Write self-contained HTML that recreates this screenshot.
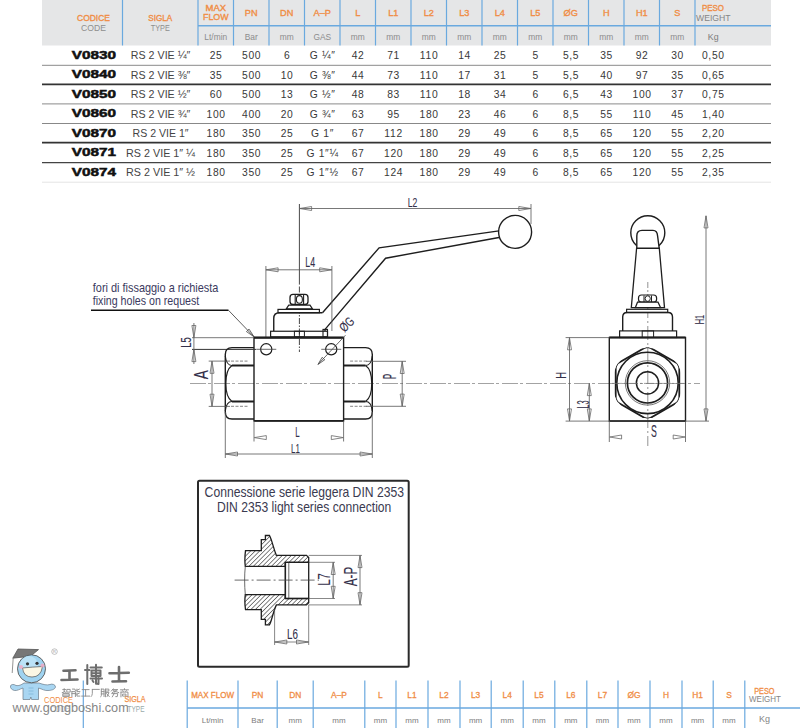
<!DOCTYPE html>
<html><head><meta charset="utf-8"><title>V0830 ball valve</title>
<style>
html,body{margin:0;padding:0;background:#fff;width:800px;height:728px;overflow:hidden;}
svg{display:block;font-family:"Liberation Sans",sans-serif;}
</style></head><body>
<svg width="800" height="728" viewBox="0 0 800 728">
<rect width="800" height="728" fill="#fff"/>
<rect x="42" y="0" width="729" height="45.5" fill="#e5e6e7"/>
<line x1="122.5" y1="0" x2="122.5" y2="45.5" stroke="#6aa9df" stroke-width="1.2"/>
<line x1="198" y1="0" x2="198" y2="45.5" stroke="#6aa9df" stroke-width="1.2"/>
<line x1="233.5" y1="0" x2="233.5" y2="45.5" stroke="#6aa9df" stroke-width="1.2"/>
<line x1="269" y1="0" x2="269" y2="45.5" stroke="#6aa9df" stroke-width="1.2"/>
<line x1="304.5" y1="0" x2="304.5" y2="45.5" stroke="#6aa9df" stroke-width="1.2"/>
<line x1="340" y1="0" x2="340" y2="45.5" stroke="#6aa9df" stroke-width="1.2"/>
<line x1="375.5" y1="0" x2="375.5" y2="45.5" stroke="#6aa9df" stroke-width="1.2"/>
<line x1="411" y1="0" x2="411" y2="45.5" stroke="#6aa9df" stroke-width="1.2"/>
<line x1="446.5" y1="0" x2="446.5" y2="45.5" stroke="#6aa9df" stroke-width="1.2"/>
<line x1="482" y1="0" x2="482" y2="45.5" stroke="#6aa9df" stroke-width="1.2"/>
<line x1="517.5" y1="0" x2="517.5" y2="45.5" stroke="#6aa9df" stroke-width="1.2"/>
<line x1="553" y1="0" x2="553" y2="45.5" stroke="#6aa9df" stroke-width="1.2"/>
<line x1="588.5" y1="0" x2="588.5" y2="45.5" stroke="#6aa9df" stroke-width="1.2"/>
<line x1="624" y1="0" x2="624" y2="45.5" stroke="#6aa9df" stroke-width="1.2"/>
<line x1="659.5" y1="0" x2="659.5" y2="45.5" stroke="#6aa9df" stroke-width="1.2"/>
<line x1="695" y1="0" x2="695" y2="45.5" stroke="#6aa9df" stroke-width="1.2"/>
<line x1="198" y1="25.8" x2="771" y2="25.8" stroke="#6aa9df" stroke-width="1.6"/>
<text x="93.5" y="20.6" font-size="9.2" fill="#f08d45" text-anchor="middle" font-weight="normal" font-family='"Liberation Sans", sans-serif' textLength="33" lengthAdjust="spacingAndGlyphs"  stroke="#f08d45" stroke-width="0.35">CODICE</text>
<text x="93.5" y="30.6" font-size="9.2" fill="#8e8e8e" text-anchor="middle" font-weight="normal" font-family='"Liberation Sans", sans-serif' textLength="25" lengthAdjust="spacingAndGlyphs" >CODE</text>
<text x="160.3" y="20.6" font-size="8.6" fill="#f08d45" text-anchor="middle" font-weight="normal" font-family='"Liberation Sans", sans-serif' textLength="24" lengthAdjust="spacingAndGlyphs"  stroke="#f08d45" stroke-width="0.35">SIGLA</text>
<text x="160.3" y="31" font-size="9" fill="#8e8e8e" text-anchor="middle" font-weight="normal" font-family='"Liberation Sans", sans-serif' textLength="19" lengthAdjust="spacingAndGlyphs" >TYPE</text>
<text x="215.8" y="10.9" font-size="8.2" fill="#f08d45" text-anchor="middle" font-weight="normal" font-family='"Liberation Sans", sans-serif' textLength="20.5" lengthAdjust="spacingAndGlyphs"  stroke="#f08d45" stroke-width="0.35">MAX</text>
<text x="215.8" y="20.3" font-size="8.6" fill="#f08d45" text-anchor="middle" font-weight="normal" font-family='"Liberation Sans", sans-serif' textLength="25.5" lengthAdjust="spacingAndGlyphs"  stroke="#f08d45" stroke-width="0.35">FLOW</text>
<text x="251.25" y="15.8" font-size="9.2" fill="#f08d45" text-anchor="middle" font-weight="normal" font-family='"Liberation Sans", sans-serif'  stroke="#f08d45" stroke-width="0.35">PN</text>
<text x="286.75" y="15.8" font-size="9.2" fill="#f08d45" text-anchor="middle" font-weight="normal" font-family='"Liberation Sans", sans-serif'  stroke="#f08d45" stroke-width="0.35">DN</text>
<text x="322.25" y="15.8" font-size="9.2" fill="#f08d45" text-anchor="middle" font-weight="normal" font-family='"Liberation Sans", sans-serif'  stroke="#f08d45" stroke-width="0.35">A–P</text>
<text x="357.75" y="15.8" font-size="9.2" fill="#f08d45" text-anchor="middle" font-weight="normal" font-family='"Liberation Sans", sans-serif'  stroke="#f08d45" stroke-width="0.35">L</text>
<text x="393.25" y="15.8" font-size="9.2" fill="#f08d45" text-anchor="middle" font-weight="normal" font-family='"Liberation Sans", sans-serif'  stroke="#f08d45" stroke-width="0.35">L1</text>
<text x="428.75" y="15.8" font-size="9.2" fill="#f08d45" text-anchor="middle" font-weight="normal" font-family='"Liberation Sans", sans-serif'  stroke="#f08d45" stroke-width="0.35">L2</text>
<text x="464.25" y="15.8" font-size="9.2" fill="#f08d45" text-anchor="middle" font-weight="normal" font-family='"Liberation Sans", sans-serif'  stroke="#f08d45" stroke-width="0.35">L3</text>
<text x="499.75" y="15.8" font-size="9.2" fill="#f08d45" text-anchor="middle" font-weight="normal" font-family='"Liberation Sans", sans-serif'  stroke="#f08d45" stroke-width="0.35">L4</text>
<text x="535.25" y="15.8" font-size="9.2" fill="#f08d45" text-anchor="middle" font-weight="normal" font-family='"Liberation Sans", sans-serif'  stroke="#f08d45" stroke-width="0.35">L5</text>
<text x="570.75" y="15.8" font-size="9.2" fill="#f08d45" text-anchor="middle" font-weight="normal" font-family='"Liberation Sans", sans-serif'  stroke="#f08d45" stroke-width="0.35">ØG</text>
<text x="606.25" y="15.8" font-size="9.2" fill="#f08d45" text-anchor="middle" font-weight="normal" font-family='"Liberation Sans", sans-serif'  stroke="#f08d45" stroke-width="0.35">H</text>
<text x="641.75" y="15.8" font-size="9.2" fill="#f08d45" text-anchor="middle" font-weight="normal" font-family='"Liberation Sans", sans-serif'  stroke="#f08d45" stroke-width="0.35">H1</text>
<text x="677.25" y="15.8" font-size="9.2" fill="#f08d45" text-anchor="middle" font-weight="normal" font-family='"Liberation Sans", sans-serif'  stroke="#f08d45" stroke-width="0.35">S</text>
<text x="713" y="11.2" font-size="8.6" fill="#f08d45" text-anchor="middle" font-weight="normal" font-family='"Liberation Sans", sans-serif' textLength="22" lengthAdjust="spacingAndGlyphs"  stroke="#f08d45" stroke-width="0.35">PESO</text>
<text x="713.3" y="20.6" font-size="8.8" fill="#858585" text-anchor="middle" font-weight="normal" font-family='"Liberation Sans", sans-serif' textLength="34.6" lengthAdjust="spacingAndGlyphs" >WEIGHT</text>
<text x="215.75" y="39.6" font-size="8.4" fill="#8c8c8c" text-anchor="middle" font-weight="normal" font-family='"Liberation Sans", sans-serif' >Lt/min</text>
<text x="251.25" y="39.6" font-size="8.4" fill="#8c8c8c" text-anchor="middle" font-weight="normal" font-family='"Liberation Sans", sans-serif' >Bar</text>
<text x="286.75" y="39.6" font-size="8.4" fill="#8c8c8c" text-anchor="middle" font-weight="normal" font-family='"Liberation Sans", sans-serif' >mm</text>
<text x="322.25" y="39.6" font-size="8.4" fill="#8c8c8c" text-anchor="middle" font-weight="normal" font-family='"Liberation Sans", sans-serif' >GAS</text>
<text x="357.75" y="39.6" font-size="8.4" fill="#8c8c8c" text-anchor="middle" font-weight="normal" font-family='"Liberation Sans", sans-serif' >mm</text>
<text x="393.25" y="39.6" font-size="8.4" fill="#8c8c8c" text-anchor="middle" font-weight="normal" font-family='"Liberation Sans", sans-serif' >mm</text>
<text x="428.75" y="39.6" font-size="8.4" fill="#8c8c8c" text-anchor="middle" font-weight="normal" font-family='"Liberation Sans", sans-serif' >mm</text>
<text x="464.25" y="39.6" font-size="8.4" fill="#8c8c8c" text-anchor="middle" font-weight="normal" font-family='"Liberation Sans", sans-serif' >mm</text>
<text x="499.75" y="39.6" font-size="8.4" fill="#8c8c8c" text-anchor="middle" font-weight="normal" font-family='"Liberation Sans", sans-serif' >mm</text>
<text x="535.25" y="39.6" font-size="8.4" fill="#8c8c8c" text-anchor="middle" font-weight="normal" font-family='"Liberation Sans", sans-serif' >mm</text>
<text x="570.75" y="39.6" font-size="8.4" fill="#8c8c8c" text-anchor="middle" font-weight="normal" font-family='"Liberation Sans", sans-serif' >mm</text>
<text x="606.25" y="39.6" font-size="8.4" fill="#8c8c8c" text-anchor="middle" font-weight="normal" font-family='"Liberation Sans", sans-serif' >mm</text>
<text x="641.75" y="39.6" font-size="8.4" fill="#8c8c8c" text-anchor="middle" font-weight="normal" font-family='"Liberation Sans", sans-serif' >mm</text>
<text x="677.25" y="39.6" font-size="8.4" fill="#8c8c8c" text-anchor="middle" font-weight="normal" font-family='"Liberation Sans", sans-serif' >mm</text>
<text x="713.2" y="39.8" font-size="8.8" fill="#7c7c7c" text-anchor="middle" font-weight="normal" font-family='"Liberation Sans", sans-serif' >Kg</text>
<line x1="42" y1="65.3" x2="771" y2="65.3" stroke="#8a8a8a" stroke-width="1"/>
<line x1="42" y1="84.3" x2="771" y2="84.3" stroke="#333" stroke-width="1.8"/>
<line x1="42" y1="103.9" x2="771" y2="103.9" stroke="#8a8a8a" stroke-width="1"/>
<line x1="42" y1="123.5" x2="771" y2="123.5" stroke="#888" stroke-width="1"/>
<line x1="42" y1="142.6" x2="771" y2="142.6" stroke="#333" stroke-width="1.9"/>
<line x1="42" y1="162.6" x2="771" y2="162.6" stroke="#444" stroke-width="1.2"/>
<line x1="42" y1="182.2" x2="771" y2="182.2" stroke="#e4e4e4" stroke-width="1"/>
<text x="93.9" y="58.7" font-size="11.1" fill="#111" text-anchor="middle" font-weight="bold" font-family='"Liberation Sans", sans-serif' textLength="44.2" lengthAdjust="spacingAndGlyphs"  stroke="#111" stroke-width="0.5">V0830</text>
<text x="160.6" y="59.1" font-size="10.4" fill="#444" text-anchor="middle" font-weight="normal" font-family='"Liberation Sans", sans-serif' textLength="59.5" lengthAdjust="spacingAndGlyphs" >RS 2 VIE ¼″</text>
<text x="216.1" y="59.1" font-size="10.3" fill="#383838" text-anchor="middle" font-weight="normal" font-family='"Liberation Sans", sans-serif' letter-spacing="0.7">25</text>
<text x="251.6" y="59.1" font-size="10.3" fill="#383838" text-anchor="middle" font-weight="normal" font-family='"Liberation Sans", sans-serif' letter-spacing="0.7">500</text>
<text x="287.1" y="59.1" font-size="10.3" fill="#383838" text-anchor="middle" font-weight="normal" font-family='"Liberation Sans", sans-serif' letter-spacing="0.7">6</text>
<text x="322.6" y="59.1" font-size="10.3" fill="#383838" text-anchor="middle" font-weight="normal" font-family='"Liberation Sans", sans-serif' letter-spacing="0.7">G ¼″</text>
<text x="358.1" y="59.1" font-size="10.3" fill="#383838" text-anchor="middle" font-weight="normal" font-family='"Liberation Sans", sans-serif' letter-spacing="0.7">42</text>
<text x="393.6" y="59.1" font-size="10.3" fill="#383838" text-anchor="middle" font-weight="normal" font-family='"Liberation Sans", sans-serif' letter-spacing="0.7">71</text>
<text x="429.1" y="59.1" font-size="10.3" fill="#383838" text-anchor="middle" font-weight="normal" font-family='"Liberation Sans", sans-serif' letter-spacing="0.7">110</text>
<text x="464.6" y="59.1" font-size="10.3" fill="#383838" text-anchor="middle" font-weight="normal" font-family='"Liberation Sans", sans-serif' letter-spacing="0.7">14</text>
<text x="500.1" y="59.1" font-size="10.3" fill="#383838" text-anchor="middle" font-weight="normal" font-family='"Liberation Sans", sans-serif' letter-spacing="0.7">25</text>
<text x="535.6" y="59.1" font-size="10.3" fill="#383838" text-anchor="middle" font-weight="normal" font-family='"Liberation Sans", sans-serif' letter-spacing="0.7">5</text>
<text x="571.1" y="59.1" font-size="10.3" fill="#383838" text-anchor="middle" font-weight="normal" font-family='"Liberation Sans", sans-serif' letter-spacing="0.7">5,5</text>
<text x="606.6" y="59.1" font-size="10.3" fill="#383838" text-anchor="middle" font-weight="normal" font-family='"Liberation Sans", sans-serif' letter-spacing="0.7">35</text>
<text x="642.1" y="59.1" font-size="10.3" fill="#383838" text-anchor="middle" font-weight="normal" font-family='"Liberation Sans", sans-serif' letter-spacing="0.7">92</text>
<text x="677.6" y="59.1" font-size="10.3" fill="#383838" text-anchor="middle" font-weight="normal" font-family='"Liberation Sans", sans-serif' letter-spacing="0.7">30</text>
<text x="713.35" y="59.1" font-size="10.3" fill="#383838" text-anchor="middle" font-weight="normal" font-family='"Liberation Sans", sans-serif' letter-spacing="0.7">0,50</text>
<text x="93.9" y="78.2" font-size="11.1" fill="#111" text-anchor="middle" font-weight="bold" font-family='"Liberation Sans", sans-serif' textLength="44.2" lengthAdjust="spacingAndGlyphs"  stroke="#111" stroke-width="0.5">V0840</text>
<text x="160.6" y="78.6" font-size="10.4" fill="#444" text-anchor="middle" font-weight="normal" font-family='"Liberation Sans", sans-serif' textLength="59.5" lengthAdjust="spacingAndGlyphs" >RS 2 VIE ⅜″</text>
<text x="216.1" y="78.6" font-size="10.3" fill="#383838" text-anchor="middle" font-weight="normal" font-family='"Liberation Sans", sans-serif' letter-spacing="0.7">35</text>
<text x="251.6" y="78.6" font-size="10.3" fill="#383838" text-anchor="middle" font-weight="normal" font-family='"Liberation Sans", sans-serif' letter-spacing="0.7">500</text>
<text x="287.1" y="78.6" font-size="10.3" fill="#383838" text-anchor="middle" font-weight="normal" font-family='"Liberation Sans", sans-serif' letter-spacing="0.7">10</text>
<text x="322.6" y="78.6" font-size="10.3" fill="#383838" text-anchor="middle" font-weight="normal" font-family='"Liberation Sans", sans-serif' letter-spacing="0.7">G ⅜″</text>
<text x="358.1" y="78.6" font-size="10.3" fill="#383838" text-anchor="middle" font-weight="normal" font-family='"Liberation Sans", sans-serif' letter-spacing="0.7">44</text>
<text x="393.6" y="78.6" font-size="10.3" fill="#383838" text-anchor="middle" font-weight="normal" font-family='"Liberation Sans", sans-serif' letter-spacing="0.7">73</text>
<text x="429.1" y="78.6" font-size="10.3" fill="#383838" text-anchor="middle" font-weight="normal" font-family='"Liberation Sans", sans-serif' letter-spacing="0.7">110</text>
<text x="464.6" y="78.6" font-size="10.3" fill="#383838" text-anchor="middle" font-weight="normal" font-family='"Liberation Sans", sans-serif' letter-spacing="0.7">17</text>
<text x="500.1" y="78.6" font-size="10.3" fill="#383838" text-anchor="middle" font-weight="normal" font-family='"Liberation Sans", sans-serif' letter-spacing="0.7">31</text>
<text x="535.6" y="78.6" font-size="10.3" fill="#383838" text-anchor="middle" font-weight="normal" font-family='"Liberation Sans", sans-serif' letter-spacing="0.7">5</text>
<text x="571.1" y="78.6" font-size="10.3" fill="#383838" text-anchor="middle" font-weight="normal" font-family='"Liberation Sans", sans-serif' letter-spacing="0.7">5,5</text>
<text x="606.6" y="78.6" font-size="10.3" fill="#383838" text-anchor="middle" font-weight="normal" font-family='"Liberation Sans", sans-serif' letter-spacing="0.7">40</text>
<text x="642.1" y="78.6" font-size="10.3" fill="#383838" text-anchor="middle" font-weight="normal" font-family='"Liberation Sans", sans-serif' letter-spacing="0.7">97</text>
<text x="677.6" y="78.6" font-size="10.3" fill="#383838" text-anchor="middle" font-weight="normal" font-family='"Liberation Sans", sans-serif' letter-spacing="0.7">35</text>
<text x="713.35" y="78.6" font-size="10.3" fill="#383838" text-anchor="middle" font-weight="normal" font-family='"Liberation Sans", sans-serif' letter-spacing="0.7">0,65</text>
<text x="93.9" y="97.7" font-size="11.1" fill="#111" text-anchor="middle" font-weight="bold" font-family='"Liberation Sans", sans-serif' textLength="44.2" lengthAdjust="spacingAndGlyphs"  stroke="#111" stroke-width="0.5">V0850</text>
<text x="160.6" y="98.1" font-size="10.4" fill="#444" text-anchor="middle" font-weight="normal" font-family='"Liberation Sans", sans-serif' textLength="59.5" lengthAdjust="spacingAndGlyphs" >RS 2 VIE ½″</text>
<text x="216.1" y="98.1" font-size="10.3" fill="#383838" text-anchor="middle" font-weight="normal" font-family='"Liberation Sans", sans-serif' letter-spacing="0.7">60</text>
<text x="251.6" y="98.1" font-size="10.3" fill="#383838" text-anchor="middle" font-weight="normal" font-family='"Liberation Sans", sans-serif' letter-spacing="0.7">500</text>
<text x="287.1" y="98.1" font-size="10.3" fill="#383838" text-anchor="middle" font-weight="normal" font-family='"Liberation Sans", sans-serif' letter-spacing="0.7">13</text>
<text x="322.6" y="98.1" font-size="10.3" fill="#383838" text-anchor="middle" font-weight="normal" font-family='"Liberation Sans", sans-serif' letter-spacing="0.7">G ½″</text>
<text x="358.1" y="98.1" font-size="10.3" fill="#383838" text-anchor="middle" font-weight="normal" font-family='"Liberation Sans", sans-serif' letter-spacing="0.7">48</text>
<text x="393.6" y="98.1" font-size="10.3" fill="#383838" text-anchor="middle" font-weight="normal" font-family='"Liberation Sans", sans-serif' letter-spacing="0.7">83</text>
<text x="429.1" y="98.1" font-size="10.3" fill="#383838" text-anchor="middle" font-weight="normal" font-family='"Liberation Sans", sans-serif' letter-spacing="0.7">110</text>
<text x="464.6" y="98.1" font-size="10.3" fill="#383838" text-anchor="middle" font-weight="normal" font-family='"Liberation Sans", sans-serif' letter-spacing="0.7">18</text>
<text x="500.1" y="98.1" font-size="10.3" fill="#383838" text-anchor="middle" font-weight="normal" font-family='"Liberation Sans", sans-serif' letter-spacing="0.7">34</text>
<text x="535.6" y="98.1" font-size="10.3" fill="#383838" text-anchor="middle" font-weight="normal" font-family='"Liberation Sans", sans-serif' letter-spacing="0.7">6</text>
<text x="571.1" y="98.1" font-size="10.3" fill="#383838" text-anchor="middle" font-weight="normal" font-family='"Liberation Sans", sans-serif' letter-spacing="0.7">6,5</text>
<text x="606.6" y="98.1" font-size="10.3" fill="#383838" text-anchor="middle" font-weight="normal" font-family='"Liberation Sans", sans-serif' letter-spacing="0.7">43</text>
<text x="642.1" y="98.1" font-size="10.3" fill="#383838" text-anchor="middle" font-weight="normal" font-family='"Liberation Sans", sans-serif' letter-spacing="0.7">100</text>
<text x="677.6" y="98.1" font-size="10.3" fill="#383838" text-anchor="middle" font-weight="normal" font-family='"Liberation Sans", sans-serif' letter-spacing="0.7">37</text>
<text x="713.35" y="98.1" font-size="10.3" fill="#383838" text-anchor="middle" font-weight="normal" font-family='"Liberation Sans", sans-serif' letter-spacing="0.7">0,75</text>
<text x="93.9" y="117.2" font-size="11.1" fill="#111" text-anchor="middle" font-weight="bold" font-family='"Liberation Sans", sans-serif' textLength="44.2" lengthAdjust="spacingAndGlyphs"  stroke="#111" stroke-width="0.5">V0860</text>
<text x="160.6" y="117.6" font-size="10.4" fill="#444" text-anchor="middle" font-weight="normal" font-family='"Liberation Sans", sans-serif' textLength="59.5" lengthAdjust="spacingAndGlyphs" >RS 2 VIE ¾″</text>
<text x="216.1" y="117.6" font-size="10.3" fill="#383838" text-anchor="middle" font-weight="normal" font-family='"Liberation Sans", sans-serif' letter-spacing="0.7">100</text>
<text x="251.6" y="117.6" font-size="10.3" fill="#383838" text-anchor="middle" font-weight="normal" font-family='"Liberation Sans", sans-serif' letter-spacing="0.7">400</text>
<text x="287.1" y="117.6" font-size="10.3" fill="#383838" text-anchor="middle" font-weight="normal" font-family='"Liberation Sans", sans-serif' letter-spacing="0.7">20</text>
<text x="322.6" y="117.6" font-size="10.3" fill="#383838" text-anchor="middle" font-weight="normal" font-family='"Liberation Sans", sans-serif' letter-spacing="0.7">G ¾″</text>
<text x="358.1" y="117.6" font-size="10.3" fill="#383838" text-anchor="middle" font-weight="normal" font-family='"Liberation Sans", sans-serif' letter-spacing="0.7">63</text>
<text x="393.6" y="117.6" font-size="10.3" fill="#383838" text-anchor="middle" font-weight="normal" font-family='"Liberation Sans", sans-serif' letter-spacing="0.7">95</text>
<text x="429.1" y="117.6" font-size="10.3" fill="#383838" text-anchor="middle" font-weight="normal" font-family='"Liberation Sans", sans-serif' letter-spacing="0.7">180</text>
<text x="464.6" y="117.6" font-size="10.3" fill="#383838" text-anchor="middle" font-weight="normal" font-family='"Liberation Sans", sans-serif' letter-spacing="0.7">23</text>
<text x="500.1" y="117.6" font-size="10.3" fill="#383838" text-anchor="middle" font-weight="normal" font-family='"Liberation Sans", sans-serif' letter-spacing="0.7">46</text>
<text x="535.6" y="117.6" font-size="10.3" fill="#383838" text-anchor="middle" font-weight="normal" font-family='"Liberation Sans", sans-serif' letter-spacing="0.7">6</text>
<text x="571.1" y="117.6" font-size="10.3" fill="#383838" text-anchor="middle" font-weight="normal" font-family='"Liberation Sans", sans-serif' letter-spacing="0.7">8,5</text>
<text x="606.6" y="117.6" font-size="10.3" fill="#383838" text-anchor="middle" font-weight="normal" font-family='"Liberation Sans", sans-serif' letter-spacing="0.7">55</text>
<text x="642.1" y="117.6" font-size="10.3" fill="#383838" text-anchor="middle" font-weight="normal" font-family='"Liberation Sans", sans-serif' letter-spacing="0.7">110</text>
<text x="677.6" y="117.6" font-size="10.3" fill="#383838" text-anchor="middle" font-weight="normal" font-family='"Liberation Sans", sans-serif' letter-spacing="0.7">45</text>
<text x="713.35" y="117.6" font-size="10.3" fill="#383838" text-anchor="middle" font-weight="normal" font-family='"Liberation Sans", sans-serif' letter-spacing="0.7">1,40</text>
<text x="93.9" y="136.7" font-size="11.1" fill="#111" text-anchor="middle" font-weight="bold" font-family='"Liberation Sans", sans-serif' textLength="44.2" lengthAdjust="spacingAndGlyphs"  stroke="#111" stroke-width="0.5">V0870</text>
<text x="160.6" y="137.1" font-size="10.4" fill="#444" text-anchor="middle" font-weight="normal" font-family='"Liberation Sans", sans-serif' textLength="56" lengthAdjust="spacingAndGlyphs" >RS 2 VIE 1″</text>
<text x="216.1" y="137.1" font-size="10.3" fill="#383838" text-anchor="middle" font-weight="normal" font-family='"Liberation Sans", sans-serif' letter-spacing="0.7">180</text>
<text x="251.6" y="137.1" font-size="10.3" fill="#383838" text-anchor="middle" font-weight="normal" font-family='"Liberation Sans", sans-serif' letter-spacing="0.7">350</text>
<text x="287.1" y="137.1" font-size="10.3" fill="#383838" text-anchor="middle" font-weight="normal" font-family='"Liberation Sans", sans-serif' letter-spacing="0.7">25</text>
<text x="322.6" y="137.1" font-size="10.3" fill="#383838" text-anchor="middle" font-weight="normal" font-family='"Liberation Sans", sans-serif' letter-spacing="0.7">G 1″</text>
<text x="358.1" y="137.1" font-size="10.3" fill="#383838" text-anchor="middle" font-weight="normal" font-family='"Liberation Sans", sans-serif' letter-spacing="0.7">67</text>
<text x="393.6" y="137.1" font-size="10.3" fill="#383838" text-anchor="middle" font-weight="normal" font-family='"Liberation Sans", sans-serif' letter-spacing="0.7">112</text>
<text x="429.1" y="137.1" font-size="10.3" fill="#383838" text-anchor="middle" font-weight="normal" font-family='"Liberation Sans", sans-serif' letter-spacing="0.7">180</text>
<text x="464.6" y="137.1" font-size="10.3" fill="#383838" text-anchor="middle" font-weight="normal" font-family='"Liberation Sans", sans-serif' letter-spacing="0.7">29</text>
<text x="500.1" y="137.1" font-size="10.3" fill="#383838" text-anchor="middle" font-weight="normal" font-family='"Liberation Sans", sans-serif' letter-spacing="0.7">49</text>
<text x="535.6" y="137.1" font-size="10.3" fill="#383838" text-anchor="middle" font-weight="normal" font-family='"Liberation Sans", sans-serif' letter-spacing="0.7">6</text>
<text x="571.1" y="137.1" font-size="10.3" fill="#383838" text-anchor="middle" font-weight="normal" font-family='"Liberation Sans", sans-serif' letter-spacing="0.7">8,5</text>
<text x="606.6" y="137.1" font-size="10.3" fill="#383838" text-anchor="middle" font-weight="normal" font-family='"Liberation Sans", sans-serif' letter-spacing="0.7">65</text>
<text x="642.1" y="137.1" font-size="10.3" fill="#383838" text-anchor="middle" font-weight="normal" font-family='"Liberation Sans", sans-serif' letter-spacing="0.7">120</text>
<text x="677.6" y="137.1" font-size="10.3" fill="#383838" text-anchor="middle" font-weight="normal" font-family='"Liberation Sans", sans-serif' letter-spacing="0.7">55</text>
<text x="713.35" y="137.1" font-size="10.3" fill="#383838" text-anchor="middle" font-weight="normal" font-family='"Liberation Sans", sans-serif' letter-spacing="0.7">2,20</text>
<text x="93.9" y="156.2" font-size="11.1" fill="#111" text-anchor="middle" font-weight="bold" font-family='"Liberation Sans", sans-serif' textLength="44.2" lengthAdjust="spacingAndGlyphs"  stroke="#111" stroke-width="0.5">V0871</text>
<text x="160.6" y="156.6" font-size="10.4" fill="#444" text-anchor="middle" font-weight="normal" font-family='"Liberation Sans", sans-serif' textLength="69" lengthAdjust="spacingAndGlyphs" >RS 2 VIE 1″ ¼</text>
<text x="216.1" y="156.6" font-size="10.3" fill="#383838" text-anchor="middle" font-weight="normal" font-family='"Liberation Sans", sans-serif' letter-spacing="0.7">180</text>
<text x="251.6" y="156.6" font-size="10.3" fill="#383838" text-anchor="middle" font-weight="normal" font-family='"Liberation Sans", sans-serif' letter-spacing="0.7">350</text>
<text x="287.1" y="156.6" font-size="10.3" fill="#383838" text-anchor="middle" font-weight="normal" font-family='"Liberation Sans", sans-serif' letter-spacing="0.7">25</text>
<text x="322.6" y="156.6" font-size="10.3" fill="#383838" text-anchor="middle" font-weight="normal" font-family='"Liberation Sans", sans-serif' letter-spacing="0.7">G 1″¼</text>
<text x="358.1" y="156.6" font-size="10.3" fill="#383838" text-anchor="middle" font-weight="normal" font-family='"Liberation Sans", sans-serif' letter-spacing="0.7">67</text>
<text x="393.6" y="156.6" font-size="10.3" fill="#383838" text-anchor="middle" font-weight="normal" font-family='"Liberation Sans", sans-serif' letter-spacing="0.7">120</text>
<text x="429.1" y="156.6" font-size="10.3" fill="#383838" text-anchor="middle" font-weight="normal" font-family='"Liberation Sans", sans-serif' letter-spacing="0.7">180</text>
<text x="464.6" y="156.6" font-size="10.3" fill="#383838" text-anchor="middle" font-weight="normal" font-family='"Liberation Sans", sans-serif' letter-spacing="0.7">29</text>
<text x="500.1" y="156.6" font-size="10.3" fill="#383838" text-anchor="middle" font-weight="normal" font-family='"Liberation Sans", sans-serif' letter-spacing="0.7">49</text>
<text x="535.6" y="156.6" font-size="10.3" fill="#383838" text-anchor="middle" font-weight="normal" font-family='"Liberation Sans", sans-serif' letter-spacing="0.7">6</text>
<text x="571.1" y="156.6" font-size="10.3" fill="#383838" text-anchor="middle" font-weight="normal" font-family='"Liberation Sans", sans-serif' letter-spacing="0.7">8,5</text>
<text x="606.6" y="156.6" font-size="10.3" fill="#383838" text-anchor="middle" font-weight="normal" font-family='"Liberation Sans", sans-serif' letter-spacing="0.7">65</text>
<text x="642.1" y="156.6" font-size="10.3" fill="#383838" text-anchor="middle" font-weight="normal" font-family='"Liberation Sans", sans-serif' letter-spacing="0.7">120</text>
<text x="677.6" y="156.6" font-size="10.3" fill="#383838" text-anchor="middle" font-weight="normal" font-family='"Liberation Sans", sans-serif' letter-spacing="0.7">55</text>
<text x="713.35" y="156.6" font-size="10.3" fill="#383838" text-anchor="middle" font-weight="normal" font-family='"Liberation Sans", sans-serif' letter-spacing="0.7">2,25</text>
<text x="93.9" y="175.7" font-size="11.1" fill="#111" text-anchor="middle" font-weight="bold" font-family='"Liberation Sans", sans-serif' textLength="44.2" lengthAdjust="spacingAndGlyphs"  stroke="#111" stroke-width="0.5">V0874</text>
<text x="160.6" y="176.1" font-size="10.4" fill="#444" text-anchor="middle" font-weight="normal" font-family='"Liberation Sans", sans-serif' textLength="69" lengthAdjust="spacingAndGlyphs" >RS 2 VIE 1″ ½</text>
<text x="216.1" y="176.1" font-size="10.3" fill="#383838" text-anchor="middle" font-weight="normal" font-family='"Liberation Sans", sans-serif' letter-spacing="0.7">180</text>
<text x="251.6" y="176.1" font-size="10.3" fill="#383838" text-anchor="middle" font-weight="normal" font-family='"Liberation Sans", sans-serif' letter-spacing="0.7">350</text>
<text x="287.1" y="176.1" font-size="10.3" fill="#383838" text-anchor="middle" font-weight="normal" font-family='"Liberation Sans", sans-serif' letter-spacing="0.7">25</text>
<text x="322.6" y="176.1" font-size="10.3" fill="#383838" text-anchor="middle" font-weight="normal" font-family='"Liberation Sans", sans-serif' letter-spacing="0.7">G 1″½</text>
<text x="358.1" y="176.1" font-size="10.3" fill="#383838" text-anchor="middle" font-weight="normal" font-family='"Liberation Sans", sans-serif' letter-spacing="0.7">67</text>
<text x="393.6" y="176.1" font-size="10.3" fill="#383838" text-anchor="middle" font-weight="normal" font-family='"Liberation Sans", sans-serif' letter-spacing="0.7">124</text>
<text x="429.1" y="176.1" font-size="10.3" fill="#383838" text-anchor="middle" font-weight="normal" font-family='"Liberation Sans", sans-serif' letter-spacing="0.7">180</text>
<text x="464.6" y="176.1" font-size="10.3" fill="#383838" text-anchor="middle" font-weight="normal" font-family='"Liberation Sans", sans-serif' letter-spacing="0.7">29</text>
<text x="500.1" y="176.1" font-size="10.3" fill="#383838" text-anchor="middle" font-weight="normal" font-family='"Liberation Sans", sans-serif' letter-spacing="0.7">49</text>
<text x="535.6" y="176.1" font-size="10.3" fill="#383838" text-anchor="middle" font-weight="normal" font-family='"Liberation Sans", sans-serif' letter-spacing="0.7">6</text>
<text x="571.1" y="176.1" font-size="10.3" fill="#383838" text-anchor="middle" font-weight="normal" font-family='"Liberation Sans", sans-serif' letter-spacing="0.7">8,5</text>
<text x="606.6" y="176.1" font-size="10.3" fill="#383838" text-anchor="middle" font-weight="normal" font-family='"Liberation Sans", sans-serif' letter-spacing="0.7">65</text>
<text x="642.1" y="176.1" font-size="10.3" fill="#383838" text-anchor="middle" font-weight="normal" font-family='"Liberation Sans", sans-serif' letter-spacing="0.7">120</text>
<text x="677.6" y="176.1" font-size="10.3" fill="#383838" text-anchor="middle" font-weight="normal" font-family='"Liberation Sans", sans-serif' letter-spacing="0.7">55</text>
<text x="713.35" y="176.1" font-size="10.3" fill="#383838" text-anchor="middle" font-weight="normal" font-family='"Liberation Sans", sans-serif' letter-spacing="0.7">2,35</text>
<line x1="299.4" y1="204" x2="299.4" y2="284.6" stroke="#333" stroke-width="0.9"/>
<line x1="299.4" y1="286.5" x2="299.4" y2="352" stroke="#333" stroke-width="0.9" stroke-dasharray="6 1.5 1.5 1.5"/>
<line x1="190" y1="383.5" x2="700" y2="383.5" stroke="#999" stroke-width="0.9" stroke-dasharray="16 2 3 3"/>
<line x1="299.4" y1="208.5" x2="531" y2="208.5" stroke="#555" stroke-width="0.8"/>
<line x1="531" y1="204" x2="531" y2="224" stroke="#555" stroke-width="0.8"/>
<path d="M299.6,208.5 L311.6,206.5 L311.6,210.5 Z" stroke="#666" stroke-width="0.8" fill="none" />
<path d="M530.8,208.5 L518.8,210.5 L518.8,206.5 Z" stroke="#666" stroke-width="0.8" fill="none" />
<text x="412.5" y="207.4" font-size="13.7" fill="#33304a" text-anchor="middle" font-weight="normal" font-family='"Liberation Sans", sans-serif' textLength="9.6" lengthAdjust="spacingAndGlyphs"  stroke="#33304a" stroke-width="0.1">L2</text>
<circle cx="515.1" cy="231.9" r="16.5" stroke="#1e1e1e" stroke-width="1.4" fill="#fff"/>
<path d="M499,230.9 L379.1,247.8 L322.5,312.75" stroke="#1e1e1e" stroke-width="1.4" fill="none" />
<path d="M499,237.5 L385.6,258.2 L325,329.4 L325,331" stroke="#1e1e1e" stroke-width="1.4" fill="none" />
<line x1="265.9" y1="266" x2="265.9" y2="337" stroke="#555" stroke-width="0.8"/>
<line x1="331.9" y1="266" x2="331.9" y2="331" stroke="#555" stroke-width="0.8"/>
<line x1="265.9" y1="269.8" x2="331.9" y2="269.8" stroke="#555" stroke-width="0.8"/>
<path d="M266.1,269.8 L278.1,267.8 L278.1,271.8 Z" stroke="#666" stroke-width="0.8" fill="none" />
<path d="M331.7,269.8 L319.7,271.8 L319.7,267.8 Z" stroke="#666" stroke-width="0.8" fill="none" />
<text x="310.2" y="266.7" font-size="13.8" fill="#33304a" text-anchor="middle" font-weight="normal" font-family='"Liberation Sans", sans-serif' textLength="9.8" lengthAdjust="spacingAndGlyphs"  stroke="#33304a" stroke-width="0.1">L4</text>
<rect x="290" y="294.4" width="18" height="10" rx="3" stroke="#1e1e1e" stroke-width="1.3" fill="#fff" />
<line x1="295.2" y1="295" x2="295.2" y2="304" stroke="#1e1e1e" stroke-width="1.1"/>
<line x1="303.6" y1="295" x2="303.6" y2="304" stroke="#1e1e1e" stroke-width="1.1"/>
<ellipse cx="299.4" cy="299.4" rx="3" ry="3.8" fill="none" stroke="#222" stroke-width="1.1"/>
<path d="M288.75,305.2 L310,305.2 L312.5,308.9 L286.25,308.9 Z" stroke="#1e1e1e" stroke-width="1.2" fill="#fff" />
<rect x="278" y="309.4" width="41.4" height="3.35" rx="0" stroke="#1e1e1e" stroke-width="1.2" fill="#fff" />
<path d="M273.75,331 V318.5 Q273.75,312.75 279.5,312.75 H322.5" stroke="#1e1e1e" stroke-width="1.4" fill="none" />
<rect x="323" y="329.4" width="4.5" height="7.6" rx="0" stroke="#1e1e1e" stroke-width="1.1" fill="none" />
<rect x="270.6" y="331.25" width="56.9" height="5.65" rx="0" stroke="#1e1e1e" stroke-width="1.2" fill="none" />
<rect x="294.4" y="331.25" width="10" height="5.65" rx="0" stroke="#1e1e1e" stroke-width="1" fill="none" />
<line x1="299.4" y1="331.25" x2="299.4" y2="337" stroke="#1e1e1e" stroke-width="0.8"/>
<rect x="254" y="337.6" width="89.6" height="83.2" rx="0" stroke="#1e1e1e" stroke-width="1.4" fill="none" />
<line x1="254" y1="337.6" x2="343.6" y2="337.6" stroke="#1e1e1e" stroke-width="2.2"/>
<line x1="254" y1="420.8" x2="343.6" y2="420.8" stroke="#1e1e1e" stroke-width="1.8"/>
<circle cx="266.25" cy="349.3" r="5.6" stroke="#1e1e1e" stroke-width="1.2" fill="none"/>
<line x1="256.25" y1="349.3" x2="276.25" y2="349.3" stroke="#444" stroke-width="0.8"/>
<circle cx="331.25" cy="349.3" r="5.6" stroke="#1e1e1e" stroke-width="1.2" fill="none"/>
<line x1="321.25" y1="349.3" x2="341.25" y2="349.3" stroke="#444" stroke-width="0.8"/>
<line x1="192" y1="337.7" x2="254" y2="337.7" stroke="#555" stroke-width="0.8"/>
<line x1="192" y1="349.4" x2="256" y2="349.4" stroke="#333" stroke-width="1"/>
<line x1="193.9" y1="323" x2="193.9" y2="364" stroke="#555" stroke-width="0.8"/>
<path d="M193.9,337.5 L191.9,325.5 L195.9,325.5 Z" stroke="#666" stroke-width="0.8" fill="none" />
<path d="M193.9,349.6 L195.9,361.6 L191.9,361.6 Z" stroke="#666" stroke-width="0.8" fill="none" />
<text x="191" y="342.6" font-size="14.5" fill="#33304a" text-anchor="middle" font-weight="normal" font-family='"Liberation Sans", sans-serif' textLength="10.5" lengthAdjust="spacingAndGlyphs" transform="rotate(-90 191 342.6)"  stroke="#33304a" stroke-width="0.1">L5</text>
<path d="M343.6,347.6 H365.6 Q372.3,347.6 372.3,354.5 V412 Q372.3,419 365.6,419 H343.6" stroke="#1e1e1e" stroke-width="1.4" fill="none" />
<path d="M372.3,356 Q371.3,365.5 365.6,365.5" stroke="#1e1e1e" stroke-width="1.1" fill="none" />
<path d="M365.6,365.5 C373.8,371 373.8,396 365.6,401.5" stroke="#1e1e1e" stroke-width="1.2" fill="none" />
<path d="M365.6,401.5 Q371.3,401.5 372.3,411" stroke="#1e1e1e" stroke-width="1.1" fill="none" />
<line x1="365.6" y1="365.5" x2="343.6" y2="365.5" stroke="#1e1e1e" stroke-width="2"/>
<line x1="365.6" y1="401.5" x2="343.6" y2="401.5" stroke="#1e1e1e" stroke-width="2"/>
<line x1="366.6" y1="361.1" x2="349.6" y2="361.1" stroke="#777" stroke-width="0.9" stroke-dasharray="3 1.5"/>
<line x1="366.6" y1="406.3" x2="349.6" y2="406.3" stroke="#777" stroke-width="0.9" stroke-dasharray="3 1.5"/>
<line x1="372.3" y1="412" x2="372.3" y2="458" stroke="#555" stroke-width="0.8"/>
<path d="M254,347.6 H232 Q225.3,347.6 225.3,354.5 V412 Q225.3,419 232,419 H254" stroke="#1e1e1e" stroke-width="1.4" fill="none" />
<path d="M225.3,356 Q226.3,365.5 232,365.5" stroke="#1e1e1e" stroke-width="1.1" fill="none" />
<path d="M232,365.5 C223.8,371 223.8,396 232,401.5" stroke="#1e1e1e" stroke-width="1.2" fill="none" />
<path d="M232,401.5 Q226.3,401.5 225.3,411" stroke="#1e1e1e" stroke-width="1.1" fill="none" />
<line x1="232" y1="365.5" x2="254" y2="365.5" stroke="#1e1e1e" stroke-width="2"/>
<line x1="232" y1="401.5" x2="254" y2="401.5" stroke="#1e1e1e" stroke-width="2"/>
<line x1="231" y1="361.1" x2="248" y2="361.1" stroke="#777" stroke-width="0.9" stroke-dasharray="3 1.5"/>
<line x1="231" y1="406.3" x2="248" y2="406.3" stroke="#777" stroke-width="0.9" stroke-dasharray="3 1.5"/>
<line x1="225.3" y1="412" x2="225.3" y2="458" stroke="#555" stroke-width="0.8"/>
<line x1="208.7" y1="361.1" x2="230" y2="361.1" stroke="#555" stroke-width="0.8"/>
<line x1="208.7" y1="406.4" x2="230" y2="406.4" stroke="#555" stroke-width="0.8"/>
<line x1="212" y1="361.1" x2="212" y2="406.4" stroke="#555" stroke-width="0.8"/>
<path d="M212,361.3 L214,373.3 L210,373.3 Z" stroke="#666" stroke-width="0.8" fill="none" />
<path d="M212,406.2 L210,394.2 L214,394.2 Z" stroke="#666" stroke-width="0.8" fill="none" />
<text x="207.6" y="374.7" font-size="19.6" fill="#33304a" text-anchor="middle" font-weight="normal" font-family='"Liberation Sans", sans-serif' textLength="9" lengthAdjust="spacingAndGlyphs" transform="rotate(-90 207.6 374.7)"  stroke="#33304a" stroke-width="0.1">A</text>
<line x1="366" y1="361.3" x2="406" y2="361.3" stroke="#555" stroke-width="0.8"/>
<line x1="366" y1="406.3" x2="406" y2="406.3" stroke="#555" stroke-width="0.8"/>
<line x1="402.2" y1="361.3" x2="402.2" y2="406.3" stroke="#555" stroke-width="0.8"/>
<path d="M402.2,361.5 L404.2,373.5 L400.2,373.5 Z" stroke="#666" stroke-width="0.8" fill="none" />
<path d="M402.2,406.1 L400.2,394.1 L404.2,394.1 Z" stroke="#666" stroke-width="0.8" fill="none" />
<text x="396.2" y="376.5" font-size="18.7" fill="#33304a" text-anchor="middle" font-weight="normal" font-family='"Liberation Sans", sans-serif' textLength="5.3" lengthAdjust="spacingAndGlyphs" transform="rotate(-90 396.2 376.5)"  stroke="#33304a" stroke-width="0.1">P</text>
<line x1="254" y1="421" x2="254" y2="441.5" stroke="#555" stroke-width="0.8"/>
<line x1="343.6" y1="421" x2="343.6" y2="441.5" stroke="#555" stroke-width="0.8"/>
<path d="M254.3,437.6 L266.3,435.6 L266.3,439.6 Z" stroke="#666" stroke-width="0.8" fill="none" />
<path d="M343.3,437.6 L331.3,439.6 L331.3,435.6 Z" stroke="#666" stroke-width="0.8" fill="none" />
<text x="297.4" y="436.5" font-size="14.8" fill="#33304a" text-anchor="middle" font-weight="normal" font-family='"Liberation Sans", sans-serif' textLength="4.4" lengthAdjust="spacingAndGlyphs"  stroke="#33304a" stroke-width="0.1">L</text>
<line x1="225.3" y1="454" x2="372.3" y2="454" stroke="#555" stroke-width="0.8"/>
<path d="M225.5,454 L237.5,452 L237.5,456 Z" stroke="#666" stroke-width="0.8" fill="none" />
<path d="M372.1,454 L360.1,456 L360.1,452 Z" stroke="#666" stroke-width="0.8" fill="none" />
<text x="295.4" y="453.2" font-size="13.5" fill="#33304a" text-anchor="middle" font-weight="normal" font-family='"Liberation Sans", sans-serif' textLength="8.8" lengthAdjust="spacingAndGlyphs"  stroke="#33304a" stroke-width="0.1">L1</text>
<line x1="318" y1="364.4" x2="345.5" y2="335.2" stroke="#444" stroke-width="0.8"/>
<path d="M318,364.4 L322.14,357.32 L324.77,359.78 Z" stroke="#444" stroke-width="0.8" fill="none" />
<text x="349.9" y="327.4" font-size="13" fill="#33304a" text-anchor="middle" font-weight="normal" font-family='"Liberation Sans", sans-serif' textLength="15" lengthAdjust="spacingAndGlyphs" transform="rotate(-45 349.9 327.4)"  stroke="#33304a" stroke-width="0.1">ØG</text>
<line x1="91" y1="310.3" x2="228.5" y2="310.3" stroke="#111" stroke-width="1.5"/>
<line x1="228.5" y1="310.3" x2="254" y2="336.8" stroke="#333" stroke-width="0.8"/>
<path d="M254,336.8 L246.45,331.58 L249.04,329.08 Z" stroke="#444" stroke-width="0.8" fill="none" />
<text x="92.8" y="292.2" font-size="13" fill="#3a3a60" text-anchor="start" font-weight="normal" font-family='"Liberation Sans", sans-serif' textLength="125.6" lengthAdjust="spacingAndGlyphs" >fori di fissaggio a richiesta</text>
<text x="92.8" y="304.6" font-size="13" fill="#3a3a60" text-anchor="start" font-weight="normal" font-family='"Liberation Sans", sans-serif' textLength="106.5" lengthAdjust="spacingAndGlyphs" >fixing holes on request</text>
<line x1="647.8" y1="282" x2="647.8" y2="446" stroke="#777" stroke-width="0.8" stroke-dasharray="14 3 2 3"/>
<circle cx="647.8" cy="232.7" r="17" stroke="#1e1e1e" stroke-width="1.4" fill="#fff"/>
<path d="M636.6,248.2 L631.3,307.7 L664.5,307.7 L659.3,248.2 Z" stroke="#1e1e1e" stroke-width="1.3" fill="#fff" />
<path d="M636.8,248.2 V236 Q636.8,230.4 642,230.4 H653 Q657.2,230.4 657.6,236 L659.2,248.2 Z" stroke="#1e1e1e" stroke-width="1.4" fill="#fff" />
<line x1="647.8" y1="282" x2="647.8" y2="296" stroke="#777" stroke-width="0.8" stroke-dasharray="6 2 2 2"/>
<rect x="638.5" y="295" width="18.1" height="7.2" rx="3" stroke="#1e1e1e" stroke-width="1.2" fill="#fff" />
<line x1="644" y1="295.5" x2="644" y2="302" stroke="#1e1e1e" stroke-width="1"/>
<line x1="651.5" y1="295.5" x2="651.5" y2="302" stroke="#1e1e1e" stroke-width="1"/>
<ellipse cx="647.7" cy="298.6" rx="2.6" ry="2.8" fill="none" stroke="#222" stroke-width="1"/>
<path d="M637.5,302.2 L658,302.2 L660.6,307.7 L635.3,307.7 Z" stroke="#1e1e1e" stroke-width="1.2" fill="#fff" />
<rect x="626.6" y="309.3" width="41.1" height="3.2" rx="0" stroke="#1e1e1e" stroke-width="1.2" fill="#fff" />
<path d="M622.7,330.9 V317 Q622.7,312.5 627.2,312.5 H668 Q672.5,312.5 672.5,317 V330.9" stroke="#1e1e1e" stroke-width="1.4" fill="none" />
<rect x="619.6" y="330.9" width="57" height="6.6" rx="0" stroke="#1e1e1e" stroke-width="1.2" fill="none" />
<rect x="642.2" y="330.9" width="11.4" height="6.6" rx="0" stroke="#1e1e1e" stroke-width="1" fill="none" />
<rect x="609.3" y="337.5" width="76.2" height="83.6" rx="0" stroke="#1e1e1e" stroke-width="1.4" fill="none" />
<line x1="609.3" y1="337.5" x2="685.5" y2="337.5" stroke="#1e1e1e" stroke-width="2.2"/>
<line x1="609.3" y1="421.1" x2="685.5" y2="421.1" stroke="#1e1e1e" stroke-width="1.8"/>
<clipPath id="hc"><circle cx="647.5" cy="382.9" r="35.2"/></clipPath>
<path d="M647.5,346.18 L679.3,364.54 L679.3,401.26 L647.5,419.62 L615.7,401.26 L615.7,364.54 Z" stroke="#1e1e1e" stroke-width="1.8" fill="none" clip-path="url(#hc)"/>
<circle cx="647.5" cy="382.9" r="35.2" fill="none" stroke="#333" stroke-width="1.0" clip-path="url(#hx)"/>
<clipPath id="hx"><path d="M647.5,346.18 L679.3,364.54 L679.3,401.26 L647.5,419.62 L615.7,401.26 L615.7,364.54 Z"/></clipPath>
<circle cx="647.5" cy="382.9" r="30.7" stroke="#1e1e1e" stroke-width="1.6" fill="none"/>
<circle cx="647.5" cy="382.9" r="22.2" stroke="#666" stroke-width="0.9" fill="none"/>
<circle cx="647.5" cy="382.9" r="20.1" stroke="#1e1e1e" stroke-width="1.7" fill="none"/>
<circle cx="647.5" cy="382.9" r="11.1" stroke="#1e1e1e" stroke-width="1.5" fill="none"/>
<line x1="612" y1="383.4" x2="684" y2="383.4" stroke="#777" stroke-width="0.7" stroke-dasharray="10 2 2 2"/>
<line x1="565.6" y1="337.6" x2="609.3" y2="337.6" stroke="#555" stroke-width="0.8"/>
<line x1="565.6" y1="421.1" x2="709" y2="421.1" stroke="#555" stroke-width="0.8"/>
<line x1="569.5" y1="337.6" x2="569.5" y2="421.1" stroke="#555" stroke-width="0.8"/>
<path d="M569.5,337.8 L571.5,349.8 L567.5,349.8 Z" stroke="#666" stroke-width="0.8" fill="none" />
<path d="M569.5,420.9 L567.5,408.9 L571.5,408.9 Z" stroke="#666" stroke-width="0.8" fill="none" />
<text x="566.1" y="375.3" font-size="15" fill="#33304a" text-anchor="middle" font-weight="normal" font-family='"Liberation Sans", sans-serif' textLength="6.8" lengthAdjust="spacingAndGlyphs" transform="rotate(-90 566.1 375.3)"  stroke="#33304a" stroke-width="0.1">H</text>
<line x1="589.3" y1="383.4" x2="589.3" y2="421.1" stroke="#555" stroke-width="0.8"/>
<path d="M589.3,383.6 L591.3,395.6 L587.3,395.6 Z" stroke="#666" stroke-width="0.8" fill="none" />
<path d="M589.3,420.9 L587.3,408.9 L591.3,408.9 Z" stroke="#666" stroke-width="0.8" fill="none" />
<text x="588.5" y="404.5" font-size="16.5" fill="#33304a" text-anchor="middle" font-weight="normal" font-family='"Liberation Sans", sans-serif' textLength="8.2" lengthAdjust="spacingAndGlyphs" transform="rotate(-90 588.5 404.5)"  stroke="#33304a" stroke-width="0.1">L3</text>
<line x1="706" y1="215.7" x2="706" y2="421.1" stroke="#555" stroke-width="0.8"/>
<path d="M706,215.9 L708,227.9 L704,227.9 Z" stroke="#666" stroke-width="0.8" fill="none" />
<path d="M706,420.9 L704,408.9 L708,408.9 Z" stroke="#666" stroke-width="0.8" fill="none" />
<text x="704" y="319.5" font-size="13.2" fill="#33304a" text-anchor="middle" font-weight="normal" font-family='"Liberation Sans", sans-serif' textLength="9.4" lengthAdjust="spacingAndGlyphs" transform="rotate(-90 704 319.5)"  stroke="#33304a" stroke-width="0.1">H1</text>
<line x1="609.3" y1="421.1" x2="609.3" y2="442" stroke="#555" stroke-width="0.8"/>
<line x1="685.5" y1="421.1" x2="685.5" y2="442" stroke="#555" stroke-width="0.8"/>
<path d="M609.6,437 L621.6,435 L621.6,439 Z" stroke="#666" stroke-width="0.8" fill="none" />
<path d="M685.2,437 L673.2,439 L673.2,435 Z" stroke="#666" stroke-width="0.8" fill="none" />
<text x="654" y="436.9" font-size="16.4" fill="#33304a" text-anchor="middle" font-weight="normal" font-family='"Liberation Sans", sans-serif' textLength="5.8" lengthAdjust="spacingAndGlyphs"  stroke="#33304a" stroke-width="0.1">S</text>
<rect x="198" y="480.8" width="210.7" height="185.9" rx="1.5" stroke="#2a2a2a" stroke-width="2" fill="none" />
<text x="204.6" y="497" font-size="14.8" fill="#3a3a50" text-anchor="start" font-weight="normal" font-family='"Liberation Sans", sans-serif' textLength="199.4" lengthAdjust="spacingAndGlyphs" >Connessione serie leggera DIN 2353</text>
<text x="217" y="511.9" font-size="14.8" fill="#3a3a50" text-anchor="start" font-weight="normal" font-family='"Liberation Sans", sans-serif' textLength="174.3" lengthAdjust="spacingAndGlyphs" >DIN 2353 light series connection</text>
<pattern id="hatch" patternUnits="userSpaceOnUse" width="3.2" height="3.2" patternTransform="rotate(45)"><rect width="3.2" height="3.2" fill="#fff"/><line x1="0" y1="0" x2="0" y2="3.2" stroke="#333" stroke-width="1.2"/></pattern>
<path d="M245.5,550.6 L261.3,550.6 L261.3,539.6 L265.4,539.6 L265.4,535.5 L269.5,535.5 C272,540 273,547 276.4,555.4 L306.5,555.4 L308.7,557.5 L308.7,562.3 L285.3,562.3 L285.3,566.4 L245.3,566.4 C244.6,561 244.8,556 245.5,550.6 Z" stroke="#1e1e1e" stroke-width="1.3" fill="url(#hatch)" />
<path d="M245.5,609.7 L261.3,609.7 L261.3,619.3 L265.4,619.3 L265.4,624.8 L269.5,624.8 C272,620 273,612 276.4,604.9 L306.5,604.9 L308.7,602.8 L308.7,598.5 L285.3,598.5 L285.3,594.6 L245.3,594.6 C244.6,600 244.8,605 245.5,609.7 Z" stroke="#1e1e1e" stroke-width="1.3" fill="url(#hatch)" />
<path d="M245.3,566.4 C244.4,575 244.4,585 245.3,594.6" stroke="#444" stroke-width="0.8" fill="none" />
<line x1="285.3" y1="562.3" x2="285.3" y2="598.5" stroke="#1e1e1e" stroke-width="1.6"/>
<line x1="288.8" y1="562.3" x2="288.8" y2="598.5" stroke="#444" stroke-width="0.8"/>
<line x1="308.7" y1="562.3" x2="308.7" y2="598.5" stroke="#1e1e1e" stroke-width="1.3"/>
<line x1="285.3" y1="562.3" x2="308.7" y2="562.3" stroke="#1e1e1e" stroke-width="1.2"/>
<line x1="285.3" y1="598.5" x2="308.7" y2="598.5" stroke="#1e1e1e" stroke-width="1.2"/>
<line x1="234.6" y1="580.1" x2="319" y2="580.1" stroke="#444" stroke-width="0.8" stroke-dasharray="14 3 2 3"/>
<line x1="308.7" y1="555.4" x2="362" y2="555.4" stroke="#555" stroke-width="0.7"/>
<line x1="308.7" y1="604.9" x2="362" y2="604.9" stroke="#555" stroke-width="0.7"/>
<line x1="308.7" y1="562.3" x2="335" y2="562.3" stroke="#555" stroke-width="0.7"/>
<line x1="308.7" y1="598.5" x2="335" y2="598.5" stroke="#555" stroke-width="0.7"/>
<line x1="333.2" y1="562.3" x2="333.2" y2="598.5" stroke="#555" stroke-width="0.8"/>
<path d="M333.2,562.5 L335.2,574.5 L331.2,574.5 Z" stroke="#666" stroke-width="0.8" fill="none" />
<path d="M333.2,598.3 L331.2,586.3 L335.2,586.3 Z" stroke="#666" stroke-width="0.8" fill="none" />
<text x="330" y="579.5" font-size="16.8" fill="#33304a" text-anchor="middle" font-weight="normal" font-family='"Liberation Sans", sans-serif' textLength="12.5" lengthAdjust="spacingAndGlyphs" transform="rotate(-90 330 579.5)"  stroke="#33304a" stroke-width="0.1">L7</text>
<line x1="360" y1="555.4" x2="360" y2="604.9" stroke="#555" stroke-width="0.8"/>
<path d="M360,555.6 L362,567.6 L358,567.6 Z" stroke="#666" stroke-width="0.8" fill="none" />
<path d="M360,604.7 L358,592.7 L362,592.7 Z" stroke="#666" stroke-width="0.8" fill="none" />
<text x="356.7" y="576.5" font-size="19.2" fill="#33304a" text-anchor="middle" font-weight="normal" font-family='"Liberation Sans", sans-serif' textLength="19.3" lengthAdjust="spacingAndGlyphs" transform="rotate(-90 356.7 576.5)"  stroke="#33304a" stroke-width="0.1">A-P</text>
<line x1="274.6" y1="609" x2="274.6" y2="645" stroke="#555" stroke-width="0.7"/>
<line x1="308.7" y1="604.9" x2="308.7" y2="645" stroke="#555" stroke-width="0.7"/>
<line x1="274.6" y1="642" x2="308.7" y2="642" stroke="#555" stroke-width="0.7"/>
<path d="M274.8,642 L286.8,640 L286.8,644 Z" stroke="#666" stroke-width="0.8" fill="none" />
<path d="M308.5,642 L296.5,644 L296.5,640 Z" stroke="#666" stroke-width="0.8" fill="none" />
<text x="292.5" y="639.3" font-size="14.2" fill="#33304a" text-anchor="middle" font-weight="normal" font-family='"Liberation Sans", sans-serif' textLength="10.9" lengthAdjust="spacingAndGlyphs"  stroke="#33304a" stroke-width="0.1">L6</text>
<line x1="83.3" y1="680.5" x2="83.3" y2="728" stroke="#6aa9df" stroke-width="1.2"/>
<line x1="187.2" y1="680.5" x2="187.2" y2="728" stroke="#6aa9df" stroke-width="1.2"/>
<line x1="238" y1="680.5" x2="238" y2="728" stroke="#6aa9df" stroke-width="1.2"/>
<line x1="277.2" y1="680.5" x2="277.2" y2="728" stroke="#6aa9df" stroke-width="1.2"/>
<line x1="313.2" y1="680.5" x2="313.2" y2="728" stroke="#6aa9df" stroke-width="1.2"/>
<line x1="364.8" y1="680.5" x2="364.8" y2="728" stroke="#6aa9df" stroke-width="1.2"/>
<line x1="396" y1="680.5" x2="396" y2="728" stroke="#6aa9df" stroke-width="1.2"/>
<line x1="428" y1="680.5" x2="428" y2="728" stroke="#6aa9df" stroke-width="1.2"/>
<line x1="460" y1="680.5" x2="460" y2="728" stroke="#6aa9df" stroke-width="1.2"/>
<line x1="491.2" y1="680.5" x2="491.2" y2="728" stroke="#6aa9df" stroke-width="1.2"/>
<line x1="523.2" y1="680.5" x2="523.2" y2="728" stroke="#6aa9df" stroke-width="1.2"/>
<line x1="554.8" y1="680.5" x2="554.8" y2="728" stroke="#6aa9df" stroke-width="1.2"/>
<line x1="586.8" y1="680.5" x2="586.8" y2="728" stroke="#6aa9df" stroke-width="1.2"/>
<line x1="618" y1="680.5" x2="618" y2="728" stroke="#6aa9df" stroke-width="1.2"/>
<line x1="650" y1="680.5" x2="650" y2="728" stroke="#6aa9df" stroke-width="1.2"/>
<line x1="682" y1="680.5" x2="682" y2="728" stroke="#6aa9df" stroke-width="1.2"/>
<line x1="713.2" y1="680.5" x2="713.2" y2="728" stroke="#6aa9df" stroke-width="1.2"/>
<line x1="744.8" y1="680.5" x2="744.8" y2="728" stroke="#6aa9df" stroke-width="1.2"/>
<line x1="187.2" y1="708" x2="800" y2="708" stroke="#6aa9df" stroke-width="1.4"/>
<text x="212.6" y="698" font-size="8.4" fill="#f08d45" text-anchor="middle" font-weight="normal" font-family='"Liberation Sans", sans-serif' textLength="42.8" lengthAdjust="spacingAndGlyphs"  stroke="#f08d45" stroke-width="0.3">MAX FLOW</text>
<text x="212.6" y="722.5" font-size="8" fill="#7c7c7c" text-anchor="middle" font-weight="normal" font-family='"Liberation Sans", sans-serif' >Lt/min</text>
<text x="257.6" y="698" font-size="8.4" fill="#f08d45" text-anchor="middle" font-weight="normal" font-family='"Liberation Sans", sans-serif'  stroke="#f08d45" stroke-width="0.3">PN</text>
<text x="257.6" y="722.5" font-size="8" fill="#7c7c7c" text-anchor="middle" font-weight="normal" font-family='"Liberation Sans", sans-serif' >Bar</text>
<text x="295.2" y="698" font-size="8.4" fill="#f08d45" text-anchor="middle" font-weight="normal" font-family='"Liberation Sans", sans-serif'  stroke="#f08d45" stroke-width="0.3">DN</text>
<text x="295.2" y="722.5" font-size="8" fill="#7c7c7c" text-anchor="middle" font-weight="normal" font-family='"Liberation Sans", sans-serif' >mm</text>
<text x="339" y="698" font-size="8.4" fill="#f08d45" text-anchor="middle" font-weight="normal" font-family='"Liberation Sans", sans-serif'  stroke="#f08d45" stroke-width="0.3">A–P</text>
<text x="339" y="722.5" font-size="8" fill="#7c7c7c" text-anchor="middle" font-weight="normal" font-family='"Liberation Sans", sans-serif' >mm</text>
<text x="380.4" y="698" font-size="8.4" fill="#f08d45" text-anchor="middle" font-weight="normal" font-family='"Liberation Sans", sans-serif'  stroke="#f08d45" stroke-width="0.3">L</text>
<text x="380.4" y="722.5" font-size="8" fill="#7c7c7c" text-anchor="middle" font-weight="normal" font-family='"Liberation Sans", sans-serif' >mm</text>
<text x="412" y="698" font-size="8.4" fill="#f08d45" text-anchor="middle" font-weight="normal" font-family='"Liberation Sans", sans-serif'  stroke="#f08d45" stroke-width="0.3">L1</text>
<text x="412" y="722.5" font-size="8" fill="#7c7c7c" text-anchor="middle" font-weight="normal" font-family='"Liberation Sans", sans-serif' >mm</text>
<text x="444" y="698" font-size="8.4" fill="#f08d45" text-anchor="middle" font-weight="normal" font-family='"Liberation Sans", sans-serif'  stroke="#f08d45" stroke-width="0.3">L2</text>
<text x="444" y="722.5" font-size="8" fill="#7c7c7c" text-anchor="middle" font-weight="normal" font-family='"Liberation Sans", sans-serif' >mm</text>
<text x="475.6" y="698" font-size="8.4" fill="#f08d45" text-anchor="middle" font-weight="normal" font-family='"Liberation Sans", sans-serif'  stroke="#f08d45" stroke-width="0.3">L3</text>
<text x="475.6" y="722.5" font-size="8" fill="#7c7c7c" text-anchor="middle" font-weight="normal" font-family='"Liberation Sans", sans-serif' >mm</text>
<text x="507.2" y="698" font-size="8.4" fill="#f08d45" text-anchor="middle" font-weight="normal" font-family='"Liberation Sans", sans-serif'  stroke="#f08d45" stroke-width="0.3">L4</text>
<text x="507.2" y="722.5" font-size="8" fill="#7c7c7c" text-anchor="middle" font-weight="normal" font-family='"Liberation Sans", sans-serif' >mm</text>
<text x="539" y="698" font-size="8.4" fill="#f08d45" text-anchor="middle" font-weight="normal" font-family='"Liberation Sans", sans-serif'  stroke="#f08d45" stroke-width="0.3">L5</text>
<text x="539" y="722.5" font-size="8" fill="#7c7c7c" text-anchor="middle" font-weight="normal" font-family='"Liberation Sans", sans-serif' >mm</text>
<text x="570.8" y="698" font-size="8.4" fill="#f08d45" text-anchor="middle" font-weight="normal" font-family='"Liberation Sans", sans-serif'  stroke="#f08d45" stroke-width="0.3">L6</text>
<text x="570.8" y="722.5" font-size="8" fill="#7c7c7c" text-anchor="middle" font-weight="normal" font-family='"Liberation Sans", sans-serif' >mm</text>
<text x="602.4" y="698" font-size="8.4" fill="#f08d45" text-anchor="middle" font-weight="normal" font-family='"Liberation Sans", sans-serif'  stroke="#f08d45" stroke-width="0.3">L7</text>
<text x="602.4" y="722.5" font-size="8" fill="#7c7c7c" text-anchor="middle" font-weight="normal" font-family='"Liberation Sans", sans-serif' >mm</text>
<text x="634" y="698" font-size="8.4" fill="#f08d45" text-anchor="middle" font-weight="normal" font-family='"Liberation Sans", sans-serif'  stroke="#f08d45" stroke-width="0.3">ØG</text>
<text x="634" y="722.5" font-size="8" fill="#7c7c7c" text-anchor="middle" font-weight="normal" font-family='"Liberation Sans", sans-serif' >mm</text>
<text x="666" y="698" font-size="8.4" fill="#f08d45" text-anchor="middle" font-weight="normal" font-family='"Liberation Sans", sans-serif'  stroke="#f08d45" stroke-width="0.3">H</text>
<text x="666" y="722.5" font-size="8" fill="#7c7c7c" text-anchor="middle" font-weight="normal" font-family='"Liberation Sans", sans-serif' >mm</text>
<text x="697.6" y="698" font-size="8.4" fill="#f08d45" text-anchor="middle" font-weight="normal" font-family='"Liberation Sans", sans-serif'  stroke="#f08d45" stroke-width="0.3">H1</text>
<text x="697.6" y="722.5" font-size="8" fill="#7c7c7c" text-anchor="middle" font-weight="normal" font-family='"Liberation Sans", sans-serif' >mm</text>
<text x="729" y="698" font-size="8.4" fill="#f08d45" text-anchor="middle" font-weight="normal" font-family='"Liberation Sans", sans-serif'  stroke="#f08d45" stroke-width="0.3">S</text>
<text x="729" y="722.5" font-size="8" fill="#7c7c7c" text-anchor="middle" font-weight="normal" font-family='"Liberation Sans", sans-serif' >mm</text>
<text x="764.4" y="693.5" font-size="8.8" fill="#f08d45" text-anchor="middle" font-weight="normal" font-family='"Liberation Sans", sans-serif' textLength="20.3" lengthAdjust="spacingAndGlyphs"  stroke="#f08d45" stroke-width="0.3">PESO</text>
<text x="765" y="702.1" font-size="8.8" fill="#858585" text-anchor="middle" font-weight="normal" font-family='"Liberation Sans", sans-serif' textLength="31.9" lengthAdjust="spacingAndGlyphs" >WEIGHT</text>
<text x="764.4" y="721.5" font-size="9" fill="#858585" text-anchor="middle" font-weight="normal" font-family='"Liberation Sans", sans-serif' >Kg</text>
<text x="58.5" y="702.5" font-size="8.6" fill="#f08d45" text-anchor="middle" font-weight="normal" font-family='"Liberation Sans", sans-serif' textLength="29" lengthAdjust="spacingAndGlyphs" >CODICE</text>
<text x="135" y="702.2" font-size="8.6" fill="#f08d45" text-anchor="middle" font-weight="normal" font-family='"Liberation Sans", sans-serif' textLength="21" lengthAdjust="spacingAndGlyphs"  stroke="#f08d45" stroke-width="0.25">SIGLA</text>
<text x="60" y="712" font-size="8.6" fill="#b8bcc4" text-anchor="middle" font-weight="normal" font-family='"Liberation Sans", sans-serif' textLength="20" lengthAdjust="spacingAndGlyphs" >CODE</text>
<text x="136" y="711.7" font-size="8.6" fill="#9aa" text-anchor="middle" font-weight="normal" font-family='"Liberation Sans", sans-serif' textLength="17" lengthAdjust="spacingAndGlyphs" >TYPE</text>
<g id="logo">
<path d="M18,649 L38.5,649.6 L30.5,656.2 L12.8,658.2 Z" stroke="#555" stroke-width="0.8" fill="#777" />
<line x1="13.2" y1="658" x2="12.2" y2="673" stroke="#888" stroke-width="0.9"/>
<path d="M24,683 C21,685 19,686 16,685.5 C14,684 11,684 10.5,686 C10,688 12,690 14.5,690.5 C17,691 20,689 23,688 L23,699.5 L30,699.5 L30.8,697 L31.6,699.5 L38.5,699.5 L38.5,688 C42,689 45,691 48,690.5 C51,690.5 55,689.5 55.5,687 C55.5,684.5 52,683.5 50,684.5 C47,685.5 43,684.5 39,683 Z" stroke="#6a7a88" stroke-width="0.7" fill="#a9d6f2" />
<path d="M28.5,688 L33.5,688 M28.5,691 L33.5,691 M28.5,694 L33.5,694" stroke="#7fb6d8" stroke-width="0.8"/>
<circle cx="31.5" cy="668.8" r="14" fill="#9fd3f0" stroke="#555" stroke-width="0.9"/>
<circle cx="29" cy="665" r="9" fill="#c8e8f8" opacity="0.7"/>
<path d="M22.5,668 Q32,667 42.5,666.5 Q41,677 32,677 Q23.5,677 22.5,668 Z" fill="#fbf7e4" stroke="#555" stroke-width="0.7"/>
<circle cx="27.5" cy="663.8" r="1.6" fill="#333"/><circle cx="37" cy="663.3" r="1.6" fill="#333"/>
<circle cx="21" cy="667" r="2" fill="#f4a6c0" opacity="0.8"/><circle cx="42.5" cy="665.5" r="2" fill="#f4a6c0" opacity="0.8"/>
<circle cx="54.5" cy="651.6" r="2.8" fill="none" stroke="#999" stroke-width="0.6"/>
<text x="54.5" y="653.2" font-size="4" fill="#999" text-anchor="middle" font-family='"Liberation Sans", sans-serif'>R</text>
</g>
<path d="M63.5,670.8 L75.5,670.3 M69.5,670.5 L69.5,679.8 M61.5,680 L77.5,679.5" stroke="#6e6e6e" stroke-width="2.6" fill="none" stroke-linecap="round" stroke-linejoin="round"/>
<path d="M85,670 L89.5,670 M87.3,665 L87.3,684 M90.5,667.5 L101.8,667.5 M96,664.8 L96,683.8 M91.5,670.5 L100.5,670.5 L100.5,676 L91.5,676 Z M91.5,673.2 L100.5,673.2 M90.5,678.5 L102,678.5 M98.5,678 L98.5,684 L96.5,683.5 M92.5,680.5 L93.5,682" stroke="#6e6e6e" stroke-width="2" fill="none" stroke-linecap="round" stroke-linejoin="round"/>
<path d="M109.5,673.3 L128.8,672.8 M119,667 L119,681.5 M112.5,681.5 L126,681.2" stroke="#6e6e6e" stroke-width="2.6" fill="none" stroke-linecap="round" stroke-linejoin="round"/>
<path transform="translate(61.7,688.6)" d="M1,1 L4,1 M2.5,0 L2.5,3.5 L0.5,4 M2.5,3 L4.5,4 M5.5,0.8 L8.5,0.8 L8.5,3.5 L5.5,3.5 Z M1.5,5 L7.5,5 L7.5,8 L1.5,8 Z M1.5,6.5 L7.5,6.5" stroke="#8a8a8a" stroke-width="0.9" fill="none" stroke-linecap="round"/>
<path transform="translate(71.41,688.6)" d="M1,0.5 L3.5,0.5 L4,2 M0.5,3 L4,3 L4,8 M0.5,3 L0.5,8 M0.5,5 L4,5 M5.5,0.5 L5.5,3 L8.5,3 M5.5,4.5 L5.5,7.5 L8.5,7.5 M8,0.5 L5.5,1.7 M8,4.5 L5.5,5.7" stroke="#8a8a8a" stroke-width="0.9" fill="none" stroke-linecap="round"/>
<path transform="translate(81.12,688.6)" d="M1,1 L8,1 M4.5,1 L4.5,7.5 M0.5,7.5 L8.5,7.5" stroke="#8a8a8a" stroke-width="0.9" fill="none" stroke-linecap="round"/>
<path transform="translate(90.83,688.6)" d="M1.5,0.8 L8.5,0.8 M1.5,0.8 L1.5,5 Q1.3,7 0.3,8" stroke="#8a8a8a" stroke-width="0.9" fill="none" stroke-linecap="round"/>
<path transform="translate(100.54,688.6)" d="M0.8,0.5 L3.5,0.5 L3.5,8 M0.8,0.5 L0.8,7 Q0.8,8 0.2,8.2 M0.8,3 L3.5,3 M0.8,5.3 L3.5,5.3 M5,0.5 L8.3,0.5 L8.3,2.5 L5,2.5 M5,0.5 L5,8.2 M5.5,4 L8.5,4 L6.5,8 M6,5 L8.8,8" stroke="#8a8a8a" stroke-width="0.9" fill="none" stroke-linecap="round"/>
<path transform="translate(110.25,688.6)" d="M3,0.2 L1,2.5 M2.5,1 L7.5,1 L2,4 M3,2 L8.5,4 M1.5,5 L7.5,5 L7,8 L5.5,8 M4.5,4 L2,8.3" stroke="#8a8a8a" stroke-width="0.9" fill="none" stroke-linecap="round"/>
<path transform="translate(119.96,688.6)" d="M4.5,0 L4.5,1 M0.5,1.2 L8.5,1.2 M2.5,2 L3.3,3 M6.5,2 L5.7,3 M1,3.5 L8,3.5 L8,8.3 M1,3.5 L1,8.3 M3,5.5 L6,5.5 L6,7.5 L3,7.5 Z" stroke="#8a8a8a" stroke-width="0.9" fill="none" stroke-linecap="round"/>
<text x="12.5" y="711.7" font-size="12.6" fill="#858585" text-anchor="start" font-weight="normal" font-family='"Liberation Sans", sans-serif' textLength="116.2" lengthAdjust="spacingAndGlyphs" >www.gongboshi.com</text>
</svg>
</body></html>
